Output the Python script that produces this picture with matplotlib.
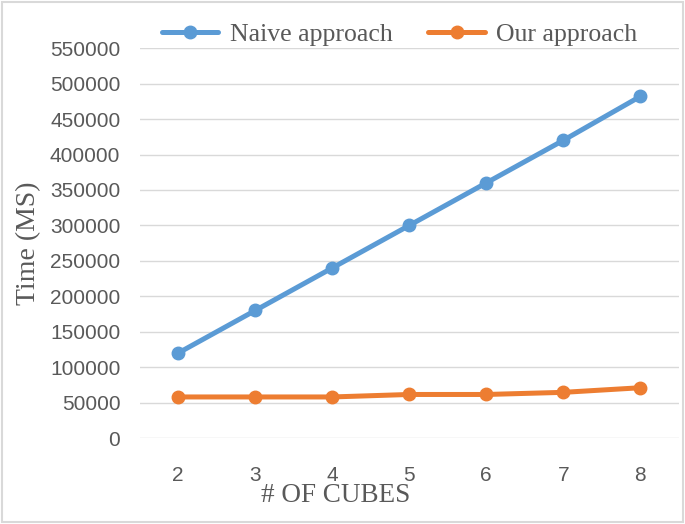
import matplotlib.pyplot as plt
from matplotlib.patches import Rectangle

# --- DONNEES ---
cubes = [2, 3, 4, 5, 6, 7, 8]
naive = [120000, 180000, 240000, 300000, 360000, 420000, 482000]
ours = [58000, 58000, 58000, 61500, 61500, 64500, 71000]
yticks = list(range(0, 550001, 50000))

fig = plt.figure(figsize=(6.85, 5.24), dpi=100)
ax = fig.add_axes([0.204, 0.164, 0.787, 0.744])

ax.plot(cubes, naive, marker='o', color='#5B9BD5', linewidth=3.6, markersize=9,
        label="Naive approach", solid_capstyle='round')
ax.plot(cubes, ours, marker='o', color='#ED7D31', linewidth=3.6, markersize=9,
        label="Our approach", solid_capstyle='round')

ax.set_xlim(1.5, 8.5)
ax.set_ylim(0, 550000)
ax.set_xticks(cubes)
ax.set_yticks(yticks)
ax.set_yticklabels([str(v) for v in yticks])
ax.grid(axis='y', color='#d9d9d9', linewidth=1)
ax.set_axisbelow(True)
for s in ax.spines.values():
    s.set_visible(False)
ax.tick_params(length=0, labelsize=15, labelcolor='#595959')
ax.tick_params(axis='y', pad=14)
ax.tick_params(axis='x', pad=20)
for lab in ax.get_xticklabels() + ax.get_yticklabels():
    lab.set_family('Liberation Sans')

ax.set_xlabel("# OF CUBES", family='Liberation Serif', fontsize=19.5, color='#595959', labelpad=0)
ax.xaxis.set_label_coords(0.364, -0.115)
ax.set_ylabel("Time (MS)", family='Liberation Serif', fontsize=20, color='#595959', labelpad=6)

leg = ax.legend(loc='center', bbox_to_anchor=(0.482, 1.036), ncol=2, frameon=False,
                prop={'family': 'Liberation Serif', 'size': 18.5}, handlelength=2.2,
                columnspacing=1.4, handletextpad=0.45)
for t in leg.get_texts():
    t.set_color('#595959')

fig.patches.append(Rectangle((0.003, 0.003), 0.994, 0.994, transform=fig.transFigure,
                             fill=False, edgecolor='#d9d9d9', linewidth=1.5))

fig.savefig("out.png", dpi=100)
